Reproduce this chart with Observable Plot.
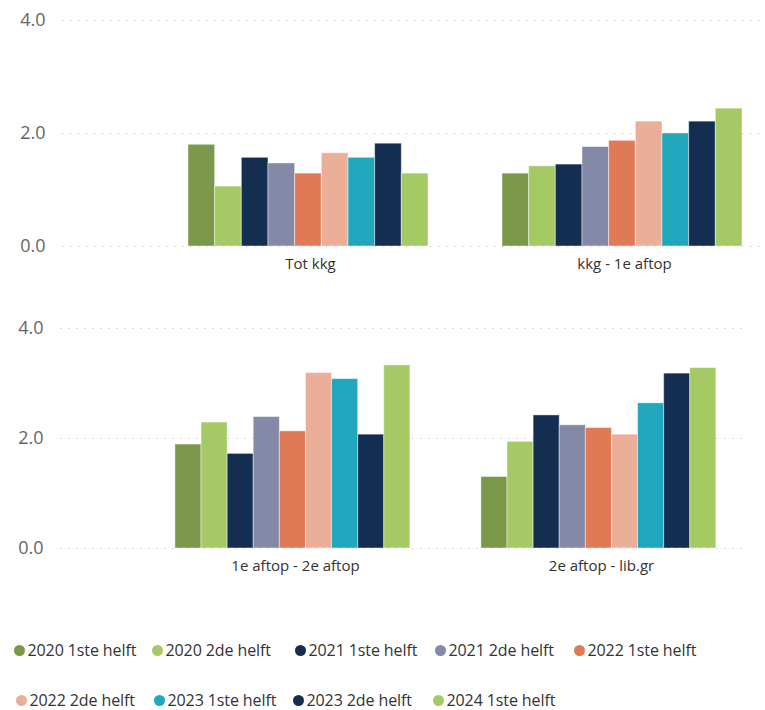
<!DOCTYPE html>
<html>
<head>
<meta charset="utf-8">
<script src="https://cdn.jsdelivr.net/npm/d3@7"></script>
<script src="https://cdn.jsdelivr.net/npm/@observablehq/plot@0.6"></script>
<style>
  body { margin: 0; background: #fff; font-family: "Open Sans", sans-serif; }
  #chart { position: relative; width: 765px; height: 710px; overflow: hidden; }
  .row { position: relative; width: 765px; height: 300px; }
  .row svg { position: absolute; left: 0; top: 0; display: block; }
  .legend-row { position: absolute; display: flex; height: 20px; align-items: center; }
  .item { display: inline-flex; align-items: center; height: 20px; color: #333; white-space: nowrap; flex: none; }
  .dot { flex: none; width: 11px; height: 11px; border-radius: 50%; margin-right: 3px; }
  .lbl { display: inline-block; font-size: 16px; letter-spacing: -0.1px; }
</style>
</head>
<body>
<div id="chart"></div>
<script>
const series = ["2020 1ste helft", "2020 2de helft", "2021 1ste helft", "2021 2de helft", "2022 1ste helft",
                "2022 2de helft", "2023 1ste helft", "2023 2de helft", "2024 1ste helft"];
const colors = ["#7b984b", "#a5c964", "#142e52", "#8389a6", "#e07a56", "#ebae98", "#21a7bb", "#142e52", "#a5c964"];
const yTicks = [0, 2, 4];

const categoriesTop = ["Tot kkg", "kkg - 1e aftop"];
const totKkg   = [1.80, 1.06, 1.57, 1.47, 1.29, 1.65, 1.57, 1.82, 1.29];
const kkg1e    = [1.29, 1.42, 1.45, 1.76, 1.87, 2.21, 2.00, 2.21, 2.44];

const categoriesBottom = ["1e aftop - 2e aftop", "2e aftop - lib.gr"];
const aftop1to2   = [1.89, 2.29, 1.72, 2.39, 2.13, 3.19, 3.08, 2.07, 3.33];
const aftop2toLib = [1.30, 1.94, 2.42, 2.24, 2.19, 2.07, 2.64, 3.18, 3.28];

function row(cats, vals, o) {
  const data = cats.flatMap((c, ci) => series.map((s, si) => ({cat: c, series: s, value: vals[ci][si]})));
  const common = {
    width: 765, height: 300,
    marginLeft: o.ml, marginRight: o.mr, marginTop: o.mt, marginBottom: o.mb,
    style: {fontFamily: "Open Sans, sans-serif", background: "transparent", overflow: "visible"},
    y: {domain: [0, 4], axis: null}
  };
  const grid = Plot.plot({
    ...common,
    marks: [
      Plot.ruleY(yTicks, {stroke: "#bdbdbd", strokeWidth: 1.2, strokeDasharray: "1.2,6.8"}),
      Plot.axisY(yTicks, {tickSize: 0, tickPadding: 17, tickFormat: d3.format(".1f"), fontSize: 18, color: "#666", label: null})
    ]
  });
  const bars = Plot.plot({
    ...common,
    fx: {domain: cats, paddingInner: 0, paddingOuter: o.fxPo, align: 1, round: false, label: null},
    x: {domain: series, paddingInner: 0, paddingOuter: o.xPo, align: o.xAlign, round: false, axis: null},
    color: {domain: series, range: colors},
    marks: [
      Plot.barY(data, {fx: "cat", x: "series", y: "value", fill: "series", stroke: "white", strokeOpacity: 0.45, strokeWidth: 1}),
      Plot.axisFx({anchor: "bottom", tickSize: 0, tickPadding: 12, fontSize: 15, color: "#333", dx: o.ldx, label: null})
    ]
  });
  const div = document.createElement("div");
  div.className = "row";
  div.appendChild(grid);
  div.appendChild(bars);
  return div;
}

const chart = document.getElementById("chart");
chart.appendChild(row(categoriesTop, [totKkg, kkg1e],
  {ml: 62, mr: 2, mt: 20, mb: 54, fxPo: 0.11624, xPo: 1.3875, xAlign: 0.716, ldx: 18}));
chart.appendChild(row(categoriesBottom, [aftop1to2, aftop2toLib],
  {ml: 60, mr: 20, mt: 28, mb: 52, fxPo: 0.1193, xPo: 1.3596, xAlign: 0.59, ldx: 9}));

// legend layout (item widths in px, per row)
const legendRows = [
  {start: 0, count: 5, left: 13.5, top: 640, widths: [138, 143, 140, 139, 150]},
  {start: 5, count: 4, left: 15.5, top: 690, widths: [138, 139, 140, 150]}
];
legendRows.forEach(r => {
  const lr = document.createElement("div");
  lr.className = "legend-row";
  lr.style.top = r.top + "px";
  lr.style.left = r.left + "px";
  for (let k = 0; k < r.count; k++) {
    const i = r.start + k;
    const it = document.createElement("span");
    it.className = "item";
    it.style.width = r.widths[k] + "px";
    const dot = document.createElement("span");
    dot.className = "dot";
    dot.style.background = colors[i];
    const lbl = document.createElement("span");
    lbl.className = "lbl";
    lbl.textContent = series[i];
    it.appendChild(dot);
    it.appendChild(lbl);
    lr.appendChild(it);
  }
  chart.appendChild(lr);
});
</script>
</body>
</html>
